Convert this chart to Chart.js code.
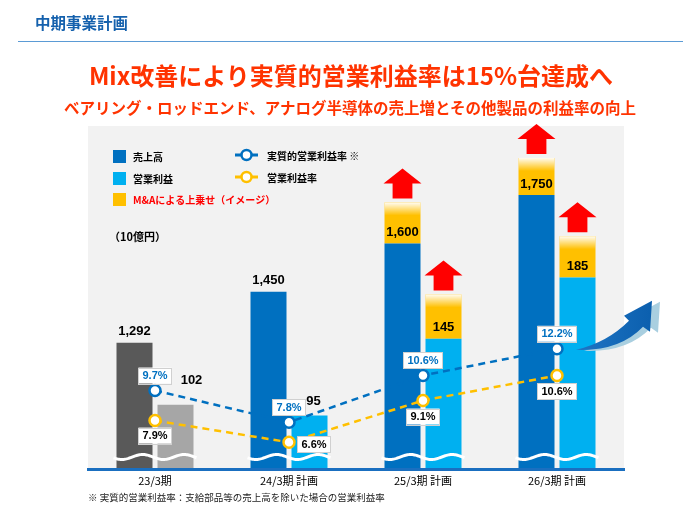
<!DOCTYPE html>
<html><head><meta charset="utf-8">
<script src="https://cdn.jsdelivr.net/npm/chart.js@4.4.0/dist/chart.umd.min.js"></script>
<style>
body{margin:0;background:#fff;}
#wrap{position:relative;width:700px;height:525px;overflow:hidden;font-family:"Noto Sans CJK JP","Noto Sans",sans-serif;}
#c{position:absolute;left:0;top:0;}
.hdr{position:absolute;left:35px;top:12px;line-height:20px;font-size:15.5px;font-weight:bold;color:#1561ad;}
.rule{position:absolute;left:18px;top:41px;width:665px;height:0;border-top:1.5px solid #5b9bd5;}
.t1{position:absolute;left:0;width:702px;top:60px;line-height:30px;text-align:center;font-size:24px;font-weight:bold;color:#ff3300;}
.t2{position:absolute;left:0;width:700px;top:97px;line-height:20px;text-align:center;font-size:15.5px;font-weight:bold;color:#ff3300;}
.fn{position:absolute;left:88px;top:491px;line-height:12px;font-size:9.5px;color:#222;}
</style></head>
<body><div id="wrap">
<canvas id="c" width="700" height="525"></canvas>
<div class="hdr">中期事業計画</div>
<div class="rule"></div>
<div class="t1">Mix改善により実質的営業利益率は15%台達成へ</div>
<div class="t2">ベアリング・ロッドエンド、アナログ半導体の売上増とその他製品の利益率の向上</div>
<div class="fn">※ 実質的営業利益率：支給部品等の売上高を除いた場合の営業利益率</div>
</div>
<script>
// ---- data ----
const categories = ['23/3期', '24/3期 計画', '25/3期 計画', '26/3期 計画'];
const sales = [1292, 1450, 1600, 1750];            // 売上高 (10億円)
const salesMA = [null, null, 127, 115];            // M&Aによる上乗せ（イメージ）
const profit = [102, 95, 145, 185];                // 営業利益
const profitMA = [null, null, 29, 27];             // M&Aによる上乗せ（イメージ）
const realMargin = [9.7, 7.8, 10.6, 12.2];         // 実質的営業利益率 ※
const opMargin = [7.9, 6.6, 9.1, 10.6];            // 営業利益率
const salesText = ['1,292', '1,450', '1,600', '1,750'];
const profitText = ['102', '95', '145', '185'];
const realText = ['9.7%', '7.8%', '10.6%', '12.2%'];
const opText = ['7.9%', '6.6%', '9.1%', '10.6%'];

// ---- styles ----
const BLUE = '#0070c0', CYAN = '#00b0f0', YEL = '#ffc000', DGRAY = '#595959', LGRAY = '#a6a6a6', RED = '#ff0000';
const NUMFONT = '"Liberation Sans", Arial, sans-serif';
const JPFONT = '"Noto Sans CJK JP", sans-serif';
const profitLabelOffset = [[16, -24], [4, -14], [0, -11], [0, -11]];
const opLabelOffset = [[0, 15], [25, 2], [0, 16], [0, 16]];

const bgPlugin = {
  id: 'bg',
  beforeDraw(chart) {
    const {ctx, chartArea: a} = chart;
    ctx.save();
    ctx.fillStyle = '#f2f2f2';
    ctx.fillRect(a.left, a.top, a.right - a.left, a.bottom - a.top);
    ctx.restore();
  }
};

function upArrow(ctx, cx, bottom, w) {
  const h = 30, headH = 15, shaft = w * 0.55;
  ctx.beginPath();
  ctx.moveTo(cx - shaft / 2, bottom);
  ctx.lineTo(cx - shaft / 2, bottom - (h - headH));
  ctx.lineTo(cx - w / 2 - 1, bottom - (h - headH));
  ctx.lineTo(cx, bottom - h);
  ctx.lineTo(cx + w / 2 + 1, bottom - (h - headH));
  ctx.lineTo(cx + shaft / 2, bottom - (h - headH));
  ctx.lineTo(cx + shaft / 2, bottom);
  ctx.closePath();
  ctx.fillStyle = RED;
  ctx.fill();
}

function labelBox(ctx, text, x, y, color) {
  ctx.font = 'bold 11px ' + NUMFONT;
  const w = ctx.measureText(text).width + 8, h = 16;
  ctx.fillStyle = '#fff';
  ctx.fillRect(x - w / 2, y - h / 2, w, h);
  ctx.strokeStyle = '#d0d0d0';
  ctx.lineWidth = 1;
  ctx.strokeRect(Math.round(x - w / 2) + 0.5, Math.round(y - h / 2) + 0.5, Math.round(w), h);
  ctx.fillStyle = color;
  ctx.textAlign = 'center';
  ctx.textBaseline = 'middle';
  ctx.fillText(text, x, y + 0.5);
}

const decoPlugin = {
  id: 'deco',
  afterDatasetDraw(chart, args) {
    // bar datasets are drawn 3,2,1,0 -> decorate after the last one (index 0)
    if (args.index !== 0) return;
    const {ctx} = chart;
    const ys = chart.scales.ySales, yp = chart.scales.yProfit;
    const mS = chart.getDatasetMeta(0), mP = chart.getDatasetMeta(2);
    const mSA = chart.getDatasetMeta(1), mPA = chart.getDatasetMeta(3);
    ctx.save();
    const hasVal = (arr, i) => arr[i] !== null && arr[i] !== undefined;
    // fade tops of M&A segments
    [[mSA, salesMA], [mPA, profitMA]].forEach(([m, arr]) => {
      m.data.forEach((el, i) => {
        if (!hasVal(arr, i)) return;
        const w = el.width, top = el.y;
        const g = ctx.createLinearGradient(0, top, 0, top + 13);
        g.addColorStop(0, 'rgba(255,255,255,0.95)');
        g.addColorStop(1, 'rgba(255,255,255,0)');
        ctx.fillStyle = g;
        ctx.fillRect(el.x - w / 2, top, w, 13);
      });
    });
    // red arrows
    [[mSA, salesMA], [mPA, profitMA]].forEach(([m, arr]) => {
      m.data.forEach((el, i) => {
        if (!hasVal(arr, i)) return;
        upArrow(ctx, el.x, el.y - 4, el.width);
      });
    });
    // wavy break lines
    ctx.strokeStyle = '#fff';
    ctx.lineWidth = 3;
    mS.data.forEach((el, i) => {
      const e2 = mP.data[i];
      const x0 = el.x - el.width / 2 - 3, x1 = e2.x + e2.width / 2 + 3;
      const yc = chart.chartArea.bottom - 12;
      ctx.beginPath();
      for (let x = x0; x <= x1; x += 1) {
        const yy = yc + 2.5 * Math.sin((x - x0) / (x1 - x0) * Math.PI * 4 + 0.3);
        if (x === x0) ctx.moveTo(x, yy); else ctx.lineTo(x, yy);
      }
      ctx.stroke();
    });
    // value labels
    ctx.fillStyle = '#000';
    ctx.font = 'bold 13px ' + NUMFONT;
    ctx.textAlign = 'center';
    ctx.textBaseline = 'middle';
    mS.data.forEach((el, i) => {
      ctx.fillText(salesText[i], el.x, ys.getPixelForValue(sales[i]) - 11);
    });
    mP.data.forEach((el, i) => {
      const o = profitLabelOffset[i];
      ctx.fillText(profitText[i], el.x + o[0], yp.getPixelForValue(profit[i]) + o[1]);
    });
    ctx.restore();
  },
  afterDatasetsDraw(chart) {
    const {ctx} = chart;
    const mR = chart.getDatasetMeta(4), mO = chart.getDatasetMeta(5);
    ctx.save();
    mR.data.forEach((pt, i) => labelBox(ctx, realText[i], pt.x, pt.y - 15, BLUE));
    mO.data.forEach((pt, i) => {
      const o = opLabelOffset[i];
      labelBox(ctx, opText[i], pt.x + o[0], pt.y + o[1], '#000');
    });
    // curved arrow to the right of last real-margin point
    const p = mR.data[mR.data.length - 1];
    const arrow = (dx, dy, fill) => {
      const X = v => p.x + v + dx, Y = v => p.y + v + dy;
      ctx.beginPath();
      ctx.moveTo(X(19), Y(1));
      ctx.quadraticCurveTo(X(50), Y(-6), X(72), Y(-28));
      ctx.lineTo(X(67), Y(-33));
      ctx.lineTo(X(95), Y(-48));
      ctx.lineTo(X(93), Y(-17));
      ctx.lineTo(X(86), Y(-22));
      ctx.quadraticCurveTo(X(62), Y(3), X(19), Y(1));
      ctx.closePath();
      ctx.fillStyle = fill;
      ctx.fill();
    };
    arrow(8, 1, '#a9cfe0');
    const g = ctx.createLinearGradient(p.x + 19, 0, p.x + 95, 0);
    g.addColorStop(0, '#1f75c4');
    g.addColorStop(1, '#0b5fae');
    arrow(0, 0, g);

    // legend
    ctx.textAlign = 'left';
    ctx.textBaseline = 'middle';
    ctx.font = 'bold 10px ' + JPFONT;
    const sq = [[BLUE, '売上高', '#000', 150], [CYAN, '営業利益', '#000', 172], [YEL, 'M&Aによる上乗せ（イメージ）', RED, 193]];
    sq.forEach(([c, t, tc, y]) => {
      ctx.fillStyle = c; ctx.fillRect(113, y, 13, 13);
      ctx.fillStyle = tc; ctx.fillText(t, 133, y + 7);
    });
    const ln = [[BLUE, '実質的営業利益率 ※', 155], [YEL, '営業利益率', 177]];
    ln.forEach(([c, t, y]) => {
      ctx.strokeStyle = c; ctx.lineWidth = 3;
      ctx.beginPath(); ctx.moveTo(235, y); ctx.lineTo(258, y); ctx.stroke();
      ctx.beginPath(); ctx.arc(246.5, y, 5, 0, Math.PI * 2);
      ctx.fillStyle = '#fff'; ctx.fill(); ctx.lineWidth = 2.5; ctx.stroke();
      ctx.fillStyle = '#000'; ctx.fillText(t, 267, y + 1);
    });
    ctx.font = 'bold 11px ' + JPFONT;
    ctx.fillText('（10億円）', 109, 237);
    ctx.restore();
  }
};

const barCommon = {barPercentage: 0.878, categoryPercentage: 0.612, borderWidth: 0, order: 2};
new Chart(document.getElementById('c'), {
  type: 'bar',
  data: {
    labels: categories,
    datasets: [
      Object.assign({label: '売上高', data: sales, yAxisID: 'ySales', stack: 's',
        backgroundColor: [DGRAY, BLUE, BLUE, BLUE]}, barCommon),
      Object.assign({label: 'M&Aによる上乗せ（イメージ）', data: salesMA, yAxisID: 'ySales', stack: 's',
        backgroundColor: YEL}, barCommon),
      Object.assign({label: '営業利益', data: profit, yAxisID: 'yProfit', stack: 'p',
        backgroundColor: [LGRAY, CYAN, CYAN, CYAN]}, barCommon),
      Object.assign({label: 'M&Aによる上乗せ（イメージ）', data: profitMA, yAxisID: 'yProfit', stack: 'p',
        backgroundColor: YEL}, barCommon),
      {type: 'line', label: '実質的営業利益率 ※', data: realMargin, yAxisID: 'yPct', order: 0,
        borderColor: BLUE, borderWidth: 2.5, borderDash: [7, 5], pointRadius: 5.5, pointBorderWidth: 2.5,
        pointBackgroundColor: '#fff', pointBorderColor: BLUE, fill: false, tension: 0},
      {type: 'line', label: '営業利益率', data: opMargin, yAxisID: 'yPct', order: 1,
        borderColor: YEL, borderWidth: 2.5, borderDash: [7, 5], pointRadius: 5.5, pointBorderWidth: 2.5,
        pointBackgroundColor: '#fff', pointBorderColor: YEL, fill: false, tension: 0}
    ]
  },
  options: {
    responsive: false,
    animation: false,
    events: [],
    layout: {padding: {left: 88, right: 76, top: 126, bottom: 32.8}},
    plugins: {legend: {display: false}, tooltip: {enabled: false}},
    scales: {
      x: {
        grid: {display: false, drawTicks: false},
        border: {display: true, color: '#1a6fc0', width: 3, z: 1},
        ticks: {color: '#000', padding: 5, font: {size: 11, family: JPFONT}}
      },
      ySales: {display: false, min: 901, max: 1964, stacked: true},
      yProfit: {display: false, min: 60, max: 284, stacked: true},
      yPct: {display: false, min: 5, max: 25.54}
    }
  },
  plugins: [bgPlugin, decoPlugin]
});
</script>
</body></html>
